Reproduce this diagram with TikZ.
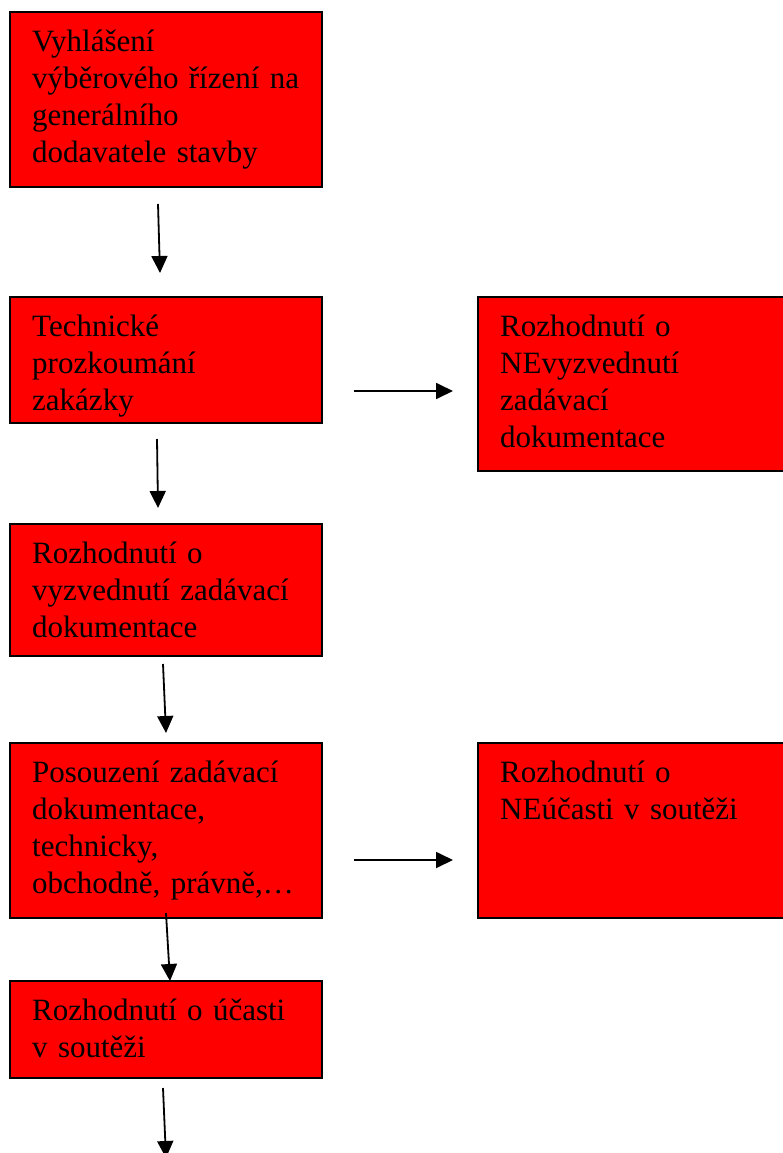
\documentclass[tikz,border=0pt]{standalone}
\usepackage{fontspec}
\setmainfont{Liberation Serif}
\usetikzlibrary{arrows.meta,calc}
\tikzset{
  box/.style={draw=black, line width=2pt, fill=red, rectangle, anchor=north west, inner sep=0pt, outer sep=0pt},
  txt/.style={anchor=north west, inner sep=0pt, text width=300pt, align=left, font=\fontsize{31}{36.8}\selectfont},
  arr/.style={line width=1.8pt, -{Triangle[length=17pt,width=16pt]}}
}
\newcommand{\fl}{\rule{0pt}{39.5pt}}
\begin{document}
\begin{tikzpicture}[x=1pt,y=-1pt]
\useasboundingbox (0,0) rectangle (782,1153);
\fill[white] (0,0) rectangle (782,1153);
% boxes
\node[box, minimum width=312pt, minimum height=175pt] (b1) at (10,12) {};
\node[box, minimum width=312pt, minimum height=126pt] (b2) at (10,297) {};
\node[box, minimum width=306pt, minimum height=174pt] (b3) at (478,297) {};
\node[box, minimum width=312pt, minimum height=132pt] (b4) at (10,524) {};
\node[box, minimum width=312pt, minimum height=175pt] (b5) at (10,743) {};
\node[box, minimum width=306pt, minimum height=175pt] (b6) at (478,743) {};
\node[box, minimum width=312pt, minimum height=97pt] (b7) at (10,981) {};
% texts
\node[txt] (t1) at ($(b1.north west)+(22,0)$) {\fl Vyhlášení\\výběrového řízení na\\generálního\\dodavatele stavby};
\node[txt] (t2) at ($(b2.north west)+(22,0)$) {\fl Technické\\prozkoumání\\zakázky};
\node[txt] (t3) at ($(b3.north west)+(22,0)$) {\fl Rozhodnutí o\\NEvyzvednutí\\zadávací\\dokumentace};
\node[txt] (t4) at ($(b4.north west)+(22,0)$) {\fl Rozhodnutí o\\vyzvednutí zadávací\\dokumentace};
\node[txt] (t5) at ($(b5.north west)+(22,0)$) {\fl Posouzení zadávací\\dokumentace,\\technicky,\\obchodně, právně,…};
\node[txt] (t6) at ($(b6.north west)+(22,0)$) {\fl Rozhodnutí o\\NEúčasti v soutěži};
\node[txt] (t7) at ($(b7.north west)+(22,0)$) {\fl Rozhodnutí o účasti\\v soutěži};
% arrow end points
\coordinate (a1s) at (158,204); \coordinate (a1e) at (160,273);
\coordinate (a2s) at (157,439); \coordinate (a2e) at (158,508);
\coordinate (a3s) at (163,664); \coordinate (a3e) at (166,733);
\coordinate (a4s) at (166,913); \coordinate (a4e) at (170,981);
\coordinate (a5s) at (163,1088); \coordinate (a5e) at (166,1158);
\coordinate (h1s) at (354,391); \coordinate (h1e) at (453,391);
\coordinate (h2s) at (354,860); \coordinate (h2e) at (453,860);
\draw[arr] (a1s) -- (a1e);
\draw[arr] (a2s) -- (a2e);
\draw[arr] (a3s) -- (a3e);
\draw[arr] (a4s) -- (a4e);
\draw[arr] (a5s) -- (a5e);
\draw[arr] (h1s) -- (h1e);
\draw[arr] (h2s) -- (h2e);
\end{tikzpicture}
\end{document}
